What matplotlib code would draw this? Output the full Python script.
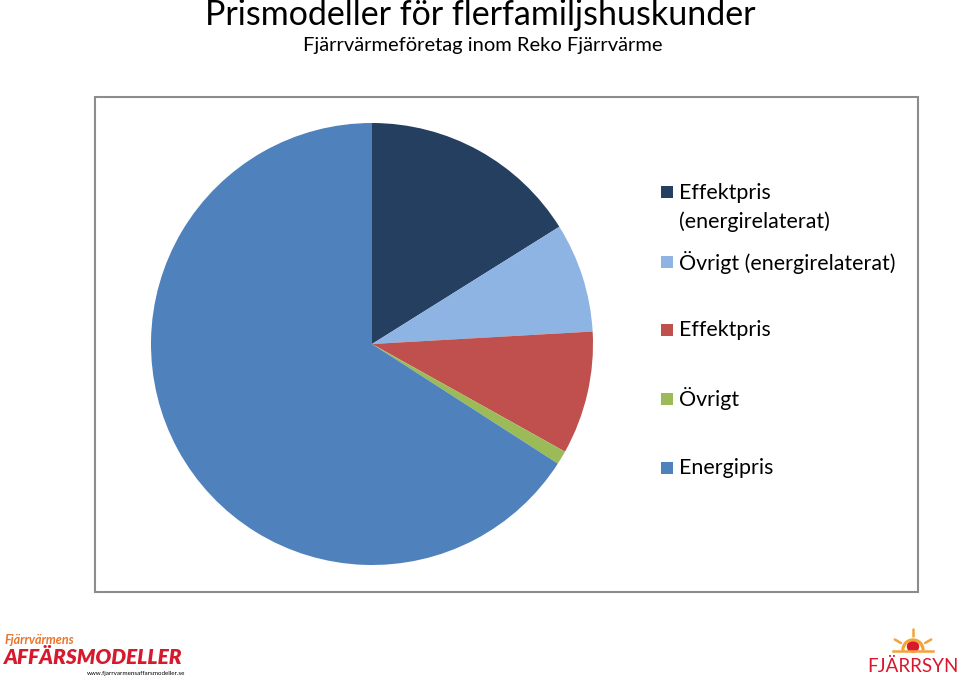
import matplotlib
matplotlib.use("Agg")
import matplotlib.pyplot as plt
from matplotlib.patches import Rectangle, Circle, Wedge
import numpy as np

plt.rcParams['font.family'] = ['Lato', 'DejaVu Sans']

title = "Prismodeller för flerfamiljshuskunder"
subtitle = "Fjärrvärmeföretag inom Reko Fjärrvärme"
labels = ["Effektpris\n(energirelaterat)", "Övrigt (energirelaterat)", "Effektpris", "Övrigt", "Energipris"]
values = [16.1, 8.0, 9.0, 1.0, 65.9]
colors = ["#243F60", "#8EB4E3", "#C0504D", "#9BBB59", "#4F81BD"]

W, H = 960, 679
fig = plt.figure(figsize=(W / 100, H / 100), dpi=100)

def fx(x): return x / W
def fy(y): return 1 - y / H

# frame
fig.patches.append(Rectangle((fx(95), fy(592)), fx(918) - fx(95), fy(97) - fy(592),
                             transform=fig.transFigure, fill=False, edgecolor="#8C8C8C", linewidth=1.5))

# titles
fig.text(fx(205), fy(15), title, fontsize=24.5, color="black", va="center", ha="left")
fig.text(fx(303), fy(46), subtitle, fontsize=14.5, color="black", va="center", ha="left")

# pie
cx, cy, r = 372, 344, 221
ax = fig.add_axes([fx(cx - r), fy(cy + r), (2 * r) / W, (2 * r) / H])
ax.pie(values, colors=colors, startangle=90, counterclock=False, radius=1,
       wedgeprops=dict(linewidth=0))
ax.set_xlim(-1, 1)
ax.set_ylim(-1, 1)
ax.set_aspect("equal")
ax.axis("off")

# legend
ys = [192, 262, 330, 399, 468]
for lab, col, y in zip(labels, colors, ys):
    fig.patches.append(Rectangle((fx(661), fy(y + 6)), 12 / W, 12 / H, transform=fig.transFigure,
                                 facecolor=col, edgecolor="none"))
    if "\n" in lab:
        fig.text(fx(679), fy(y + 15.5), lab, fontsize=15.4, va="center", ha="left", color="black",
                 linespacing=1.5)
    else:
        fig.text(fx(679), fy(y), lab, fontsize=15.4, va="center", ha="left", color="black")

# logos (left)
fig.text(fx(5), fy(640), "Fjärrvärmens", fontsize=9, color="#E8752E", style="italic", fontweight="bold",
         va="center", ha="left")
fig.text(fx(4), fy(658), "AFFÄRSMODELLER", fontsize=15, color="#D7192D", style="italic", fontweight="heavy",
         va="center", ha="left")
fig.text(fx(185), fy(674), "www.fjarrvarmensaffarsmodeller.se", fontsize=4.5, color="black",
         va="center", ha="right")

# logo (right)
fig.text(fx(913), fy(666), "FJÄRRSYN", fontsize=13.5, color="#D7192D", va="center", ha="center")
lax = fig.add_axes([fx(888), fy(658), 50 / W, 34 / H])
lax.set_xlim(-25, 25)
lax.set_ylim(-8, 26)
lax.axis("off")
lax.add_patch(Circle((0, 3.5), 5.5, color="#D7192D"))
lax.add_patch(Wedge((0, 0), 11, 0, 180, width=1.8, color="#F2A33A"))
for ang in [30, 90, 150]:
    a = np.deg2rad(ang)
    lax.plot([14 * np.cos(a), 21 * np.cos(a)], [14 * np.sin(a), 21 * np.sin(a)],
             color="#F2A33A", lw=1.8, solid_capstyle="round")
lax.plot([-20, 20], [-1, -1], color="#F2A33A", lw=1.8)

fig.savefig("out.png", dpi=100)
